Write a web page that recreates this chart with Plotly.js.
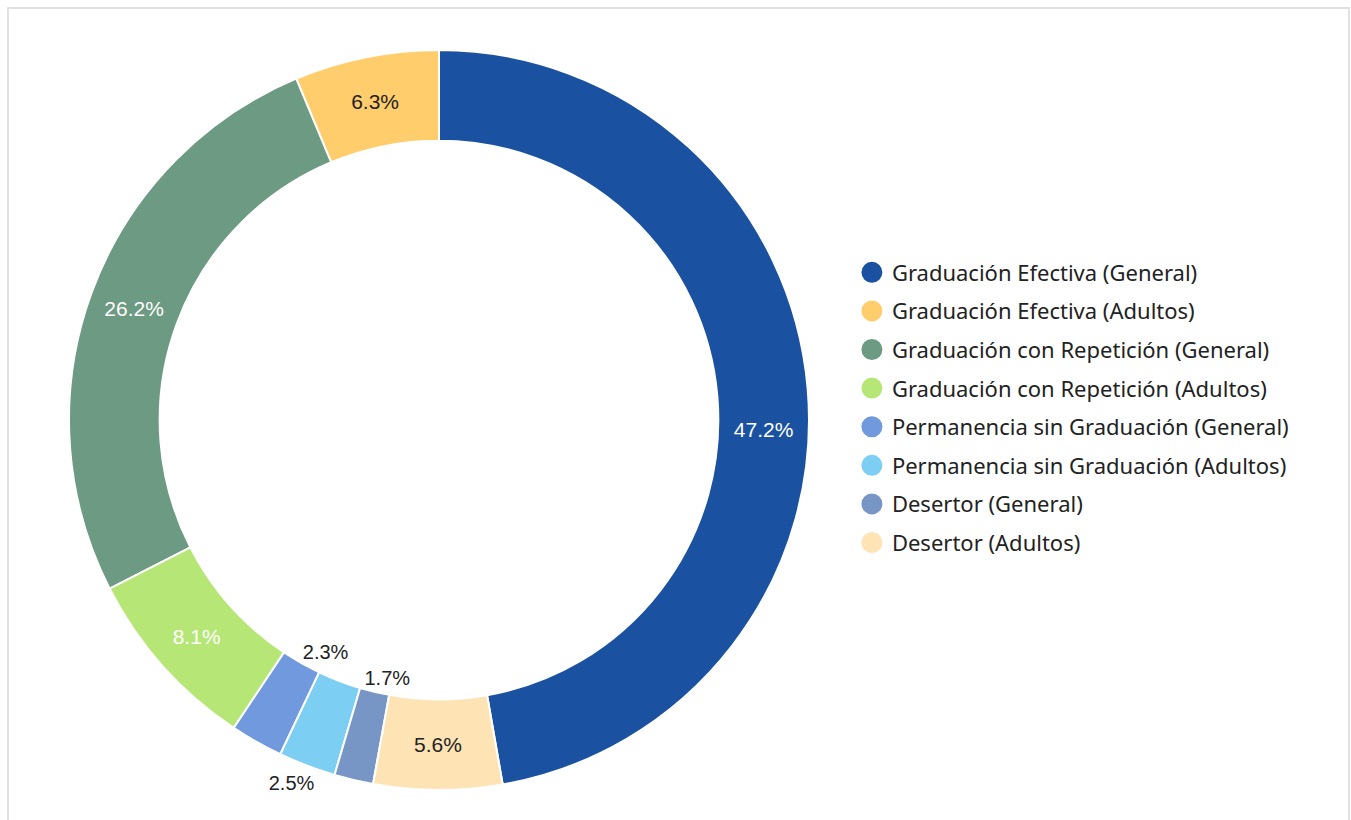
<!DOCTYPE html>
<html>
<head>
<meta charset="utf-8">
<script src="https://cdn.plot.ly/plotly-3.0.1.min.js"></script>
<style>
html,body{margin:0;padding:0;background:#fff;overflow:hidden;}
#frame{position:absolute;left:7px;top:7px;width:1339px;height:830px;border:2px solid #e1e1e1;border-bottom:none;}
#chart{width:1339px;height:811px;}
</style>
</head>
<body>
<div id="frame"><div id="chart"></div></div>
<script>
const categories = [
  'Graduación Efectiva (General)',
  'Graduación Efectiva (Adultos)',
  'Graduación con Repetición (General)',
  'Graduación con Repetición (Adultos)',
  'Permanencia sin Graduación (General)',
  'Permanencia sin Graduación (Adultos)',
  'Desertor (General)',
  'Desertor (Adultos)'
];
const percentages = [47.2, 6.3, 26.2, 8.1, 2.3, 2.5, 1.7, 5.6];
const colors = ['#1B51A1', '#FFCD6C', '#6C9A82', '#B6E776', '#7199DE', '#7CCFF2', '#7796C5', '#FEE3B5'];
const labelColors = ['#ffffff', '#222222', '#ffffff', '#ffffff', '#222222', '#222222', '#222222', '#222222'];
// where each percentage label sits: on the ring, just outside the ring, or in the hole
const ringPos    = ['none', 'inside', 'inside', 'inside', 'none', 'none', 'none', 'inside'];
const shiftedPos = ['inside', 'none', 'none', 'none', 'none', 'none', 'none', 'none'];
const outerPos   = ['none', 'none', 'none', 'none', 'none', 'outside', 'none', 'none'];
const holePos    = ['none', 'none', 'none', 'none', 'outside', 'none', 'outside', 'none'];

const labelFamily = 'Liberation Sans, Arial, sans-serif';
const clear = categories.map(() => 'rgba(0,0,0,0)');
const ringDomain = {x: [0.04481, 0.59746], y: [0.03793, 0.97345]};

function labelPie(pos, domain, extra) {
  return Object.assign({
    type: 'pie',
    labels: categories,
    values: percentages,
    sort: false,
    direction: 'counterclockwise',
    rotation: 0,
    marker: {colors: clear, line: {width: 0}},
    texttemplate: '%{value:.1f}%',
    textposition: pos,
    outsidetextfont: {family: labelFamily, size: 20, color: '#222222'},
    domain: domain,
    hoverinfo: 'none',
    showlegend: false
  }, extra || {});
}

const ring = {
  type: 'pie',
  labels: categories,
  values: percentages,
  sort: false,
  direction: 'counterclockwise',
  rotation: 0,
  hole: 0.755,
  marker: {colors: colors, line: {color: '#ffffff', width: 2}},
  texttemplate: '%{value:.1f}%',
  textposition: ringPos,
  insidetextorientation: 'horizontal',
  textfont: {family: labelFamily, size: 21, color: labelColors},
  insidetextfont: {family: labelFamily, size: 21, color: labelColors},
  domain: ringDomain,
  hoverinfo: 'none',
  showlegend: false
};

// label of the largest slice sits a little below its mid-angle
const shiftedLabels = labelPie(shiftedPos, ringDomain, {
  rotation: 6.6,
  hole: 0.755,
  insidetextorientation: 'horizontal',
  insidetextfont: {family: labelFamily, size: 21, color: labelColors}
});
const outerLabels = labelPie(outerPos, {x: [0.05452, 0.60717], y: [0.02782, 0.96334]});
const holeLabels = labelPie(holePos, {x: [0.16878, 0.51979], y: [0.18458, 0.77876]});

const legendTraces = categories.map((c, i) => ({
  type: 'scatter',
  x: [null], y: [null],
  mode: 'markers',
  name: c,
  legendgroup: c,
  marker: {color: colors[i], size: 16, symbol: 'circle', line: {color: colors[i], width: 5}},
  hoverinfo: 'none',
  showlegend: true
}));

const layout = {
  width: 1339, height: 811,
  margin: {l: 0, r: 0, t: 20, b: 0},
  paper_bgcolor: '#ffffff',
  plot_bgcolor: '#ffffff',
  xaxis: {visible: false},
  yaxis: {visible: false},
  showlegend: true,
  legend: {
    x: 0.6295, xanchor: 'left',
    y: 0.52149, yanchor: 'middle',
    traceorder: 'grouped',
    tracegroupgap: 7,
    font: {family: 'Noto Sans, sans-serif', size: 22, color: '#222222'},
    bgcolor: 'rgba(0,0,0,0)'
  }
};

Plotly.newPlot('chart', [ring, shiftedLabels, outerLabels, holeLabels].concat(legendTraces), layout, {staticPlot: true, displayModeBar: false});
</script>
</body>
</html>
